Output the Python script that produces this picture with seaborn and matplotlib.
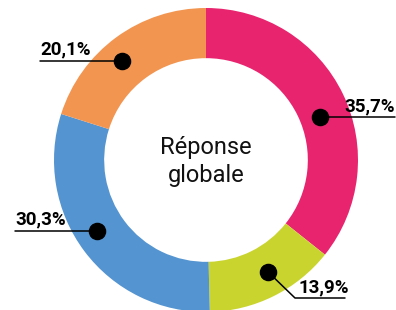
"""Donut chart: Réponse globale."""

import matplotlib
matplotlib.use("Agg")

import matplotlib.pyplot as plt
import numpy as np
import seaborn as sns

# data
categories = ["A", "B", "C", "D"]
shares = [35.7, 13.9, 30.3, 20.1]
labels = ["35,7%", "13,9%", "30,3%", "20,1%"]
colors = ["#E8246F", "#C9D42E", "#5494D0", "#F29551"]

sns.set_style("white")
plt.rcParams["font.family"] = ["Roboto", "DejaVu Sans"]

PX = 152.0  # outer radius in pixels
fig = plt.figure(figsize=(3.96, 3.10), dpi=100)
ax = fig.add_axes([0, 0, 1, 1])

wedges, _ = ax.pie(shares, colors=sns.color_palette(colors), startangle=90,
                   counterclock=False, radius=1.0,
                   wedgeprops=dict(width=0.33, linewidth=0))
ax.set_xlim(-206 / PX, 190 / PX)
ax.set_ylim(-150 / PX, 160 / PX)
ax.set_aspect("equal")
ax.axis("off")

ax.text(0, -0.01, "Réponse\nglobale", ha="center", va="center", fontsize=17,
        linespacing=1.3, color="#111111")

# label layout: (angle shift deg, dot radius, line end x, elbow or None, align)
layout = [
    (-5.0, 0.80, (395 - 206) / PX, None, "right"),
    (2.5, 0.84, (345 - 206) / PX, ((295 - 206) / PX, (160 - 298) / PX), "left"),
    (-4.0, 0.855, (15 - 206) / PX, None, "left"),
    (4.0, 0.855, (40 - 206) / PX, None, "left"),
]

cum = np.cumsum([0] + shares[:-1])
for share, start, lab, (shift, r, xend, elbow, ha) in zip(shares, cum, labels, layout):
    ang = np.deg2rad(90 - (start + share / 2) / sum(shares) * 360 + shift)
    x, y = r * np.cos(ang), r * np.sin(ang)
    if elbow is None:
        ax.plot([x, xend], [y, y], color="black", lw=1.1, zorder=3)
        ty = y
        tx = xend
    else:
        ax.plot([x, elbow[0], xend], [y, elbow[1], elbow[1]], color="black",
                lw=1.1, zorder=3)
        ty = elbow[1]
        tx = elbow[0] + 3 / PX
    ax.scatter([x], [y], s=135, color="black", zorder=4)
    ax.text(tx, ty + 2 / PX, lab, ha=ha, va="bottom", fontsize=13.5,
            fontweight="bold", color="black", zorder=5)

plt.savefig("out.png", dpi=100)
plt.close()
